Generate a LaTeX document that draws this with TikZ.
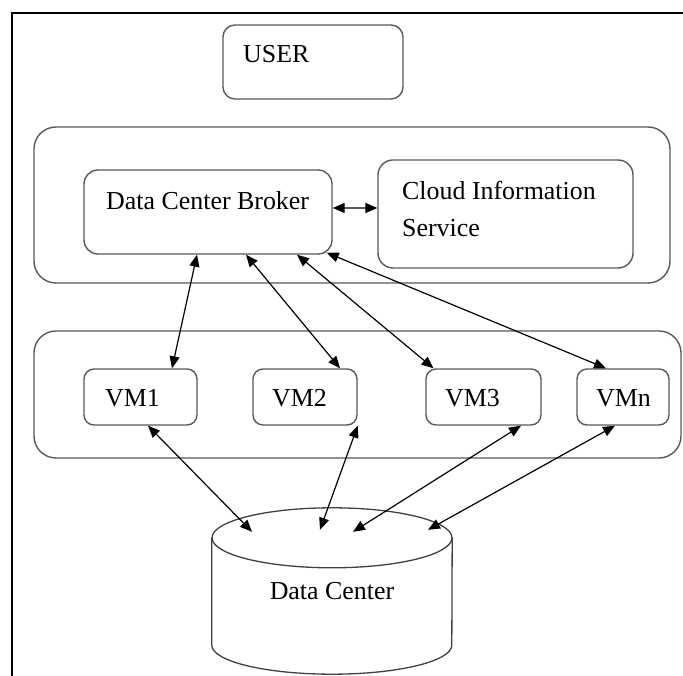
\documentclass[tikz,border=0pt]{standalone}
\usepackage{fontspec}
\setmainfont{Liberation Serif}
\usetikzlibrary{arrows.meta}

\begin{document}
\begin{tikzpicture}[
  x=1bp, y=1bp,
  box/.style={draw=black!65, line width=1.4bp, rounded corners=12bp, inner sep=0pt},
  tier/.style={box, rounded corners=22bp},
  vmbox/.style={box, minimum height=56bp, rounded corners=10bp},
  txt/.style={anchor=base west, inner sep=0pt, font=\fontsize{26}{30}\selectfont},
  link/.style={draw, line width=1.2bp, {Triangle[length=12bp, width=10bp]}-{Triangle[length=12bp, width=10bp]}}
]
\useasboundingbox (0,0) rectangle (683,676);

% Frame
\draw[line width=2.5bp] (12,0) -- (12,663) -- (683,663);

% Boxes
\node[box, minimum width=180bp, minimum height=74bp] (user) at (313,614) {};
\node[tier, minimum width=636bp, minimum height=156bp] (brokertier) at (352,471) {};
\node[box, minimum width=248bp, minimum height=84bp, rounded corners=14bp] (broker) at (208,464) {};
\node[box, minimum width=255bp, minimum height=108bp, rounded corners=15bp] (cis) at (505.5,462) {};
\node[tier, minimum width=647bp, minimum height=127bp] (vmtier) at (357.5,281.5) {};
\node[vmbox, minimum width=113bp] (vm1) at (140.5,279) {};
\node[vmbox, minimum width=104bp] (vm2) at (305,279) {};
\node[vmbox, minimum width=115bp] (vm3) at (483.5,279) {};
\node[vmbox, minimum width=92bp] (vmn) at (623,279) {};

% Data center
\node[minimum width=240bp, minimum height=166bp, inner sep=0pt, font=\fontsize{26}{30}\selectfont] (dc) at (332,85) {Data Center};
\draw[draw=black!75, line width=1.3bp] ([yshift=-30bp]dc.north) ellipse [x radius=120, y radius=30];
\draw[draw=black!75, line width=1.3bp] ([yshift=-30bp]dc.north west) -- ([yshift=29bp]dc.south west)
  arc[start angle=180, end angle=360, x radius=120, y radius=29] -- ([yshift=-30bp]dc.north east);

% Labels
\node[txt] (userlbl) at (243,613) {USER};
\node[txt] (brokerlbl) at (106,466) {Data Center Broker};
\node[txt] (cislbl) at (402,476) {Cloud Information};
\node[txt] (cislblb) at (402,439) {Service};
\node[txt] (vm1lbl) at (105,269) {VM1};
\node[txt] (vm2lbl) at (272,269) {VM2};
\node[txt] (vm3lbl) at (445,269) {VM3};
\node[txt] (vmnlbl) at (596,269) {VMn};

% Arrows
\draw[link] ([yshift=4bp]broker.east) -- ([yshift=6bp]cis.west);
\draw[link] ([xshift=-11bp]broker.south) -- ([xshift=31.5bp]vm1.north);
\draw[link] ([xshift=38bp]broker.south) -- ([xshift=35bp]vm2.north);
\draw[link] ([xshift=89bp]broker.south) -- ([xshift=-50bp]vm3.north);
\draw[link] ([shift={(-6bp,2bp)}]broker.south east) -- ([xshift=-17bp]vmn.north);

\draw[link] ([xshift=7.5bp]vm1.south) -- ([shift={(-80bp,-24bp)}]dc.north);
\draw[link] (vm2.south east) -- ([shift={(-12bp,-22bp)}]dc.north);
\draw[link] ([xshift=37.5bp]vm3.south) -- ([shift={(21bp,-24bp)}]dc.north);
\draw[link] ([xshift=-8bp]vmn.south) -- ([shift={(96bp,-22bp)}]dc.north);

\end{tikzpicture}
\end{document}
